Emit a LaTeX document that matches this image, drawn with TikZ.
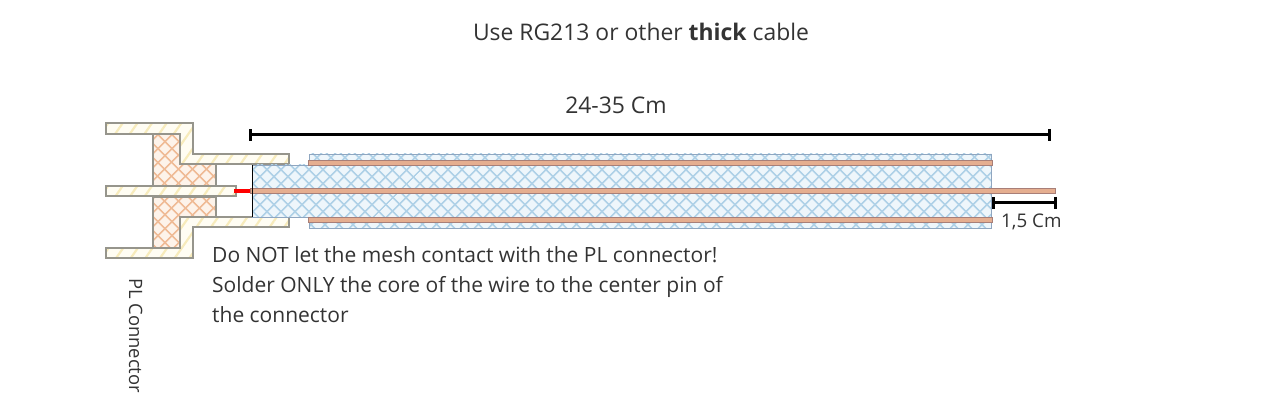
\documentclass[tikz,border=0pt]{standalone}
\usepackage{fontspec}
\setmainfont{Open Sans}
\usetikzlibrary{patterns.meta,arrows.meta}
\definecolor{shellline}{HTML}{96958C}
\definecolor{shellfill}{HTML}{FFFDF3}
\definecolor{shellhatch}{HTML}{F7EBBB}
\definecolor{isofill}{HTML}{FDF3EA}
\definecolor{isohatch}{HTML}{EFBB96}
\definecolor{meshfill}{HTML}{EEF6FB}
\definecolor{meshhatch}{HTML}{AFD1E7}
\definecolor{meshline}{HTML}{8FA6C0}
\definecolor{copper}{HTML}{E5AE90}
\definecolor{copperline}{HTML}{A87F78}
\definecolor{textcol}{HTML}{333333}
\tikzset{
	shell/.style={draw=shellline, line width=1.4pt, preaction={fill=shellfill}, preaction={pattern={Lines[angle=55,distance=12pt,line width=2.2pt]}, pattern color=shellhatch}},
	iso/.style={draw=shellline, line width=1.4pt, preaction={fill=isofill}, preaction={pattern={Lines[angle=45,distance=10.5pt,line width=2pt]}, pattern color=isohatch}, preaction={pattern={Lines[angle=-45,distance=10.5pt,line width=2pt]}, pattern color=isohatch}},
	mesh/.style={draw=meshline, line width=0.8pt, preaction={fill=meshfill}, preaction={pattern={Lines[angle=45,distance=10.5pt,line width=2pt]}, pattern color=meshhatch}, preaction={pattern={Lines[angle=-45,distance=10.5pt,line width=2pt]}, pattern color=meshhatch}},
	wire/.style={draw=copperline, line width=0.6pt, fill=copper},
	dimline/.style={line width=3pt, {Bar[width=12pt,line width=2.6pt]}-{Bar[width=12pt,line width=2.6pt]}},
	label/.style={inner sep=0pt, text=textcol, font=\fontsize{22.9}{28}\selectfont}
}
\begin{document}
\begin{tikzpicture}[x=1pt, y=-1pt]
	\useasboundingbox (0,0) rectangle (1280,403);
	%insulator
	\draw[iso] (153,134)--(180,134)--(180,164)--(216,164)--(216,186)--(153,186)--cycle;
	\draw[iso] (153,197)--(216,197)--(216,217)--(180,217)--(180,248)--(153,248)--cycle;
	%connector shell
	\draw[shell] (106,123)--(193,123)--(193,154)--(289,154)--(289,164)--(180,164)--(180,134)--(106,134)--cycle;
	\draw[shell] (106,258)--(193,258)--(193,227)--(289,227)--(289,217)--(180,217)--(180,248)--(106,248)--cycle;
	\draw[shell] (106,186) rectangle (236,196);
	
	%cable
	\draw[mesh] (309,154) rectangle (991,160);
	\draw[mesh] (309,222) rectangle (991,228);
	\draw[mesh] (252,165) rectangle (991,217);
	\foreach \y in {160, 217}{
		\draw[wire] (308, \y) rectangle (992, \y+5);
	}
	\draw[wire] (250,188) rectangle (1055,193);
	\draw[black, line width=1pt] (252,165)--(252,217);
	\fill[red] (234,189) rectangle (250,193);
	
	%dimensions
	\coordinate (longleft) at (249,135);
	\coordinate (longright) at (1051,135);
	\coordinate (shortleft) at (992,203);
	\coordinate (shortright) at (1057,203);
	\draw[dimline] (longleft)--(longright);
	\draw[dimline] (shortleft)--(shortright);
	
	%texts
	\node[label, anchor=base] (title) at (641,41) {Use RG213 or other \textbf{thick} cable};
	\node[label, anchor=base] (longlabel) at (616,114) {24-35 Cm};
	\node[label, anchor=base west, font=\fontsize{18.8}{22}\selectfont] (shortlabel) at (1001,228) {1,5 Cm};
	\node[label, anchor=north west, align=left, font=\fontsize{21}{30}\selectfont] (warning) at (212,246) {Do NOT let the mesh contact with the PL connector!\\Solder ONLY the core of the wire to the center pin of\\the connector};
	\node[label, anchor=base west, rotate=-90, font=\fontsize{18.4}{22}\selectfont] (plconnector) at (129,278) {PL Connector};
\end{tikzpicture}
\end{document}
